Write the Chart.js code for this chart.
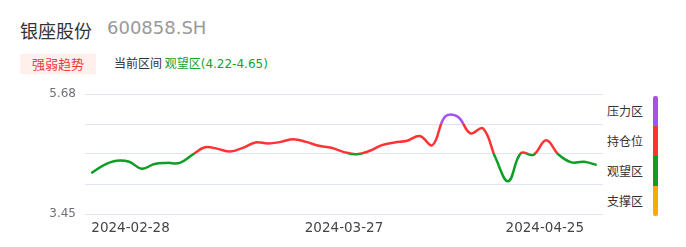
<!DOCTYPE html>
<html>
<head>
<meta charset="utf-8">
<script src="https://cdn.jsdelivr.net/npm/chart.js@4"></script>
<style>
    body {
        margin: 0;
        width: 686px;
        height: 247px;
        background: #fff;
        font-family: "DejaVu Sans", "Noto Sans CJK SC", sans-serif;
        position: relative;
        overflow: hidden;
    }
    .abs { position: absolute; white-space: nowrap; }
    #stockName { left: 20px; top: 17px; font-size: 18px; color: #333; font-family: "Noto Sans CJK SC", sans-serif; }
    #stockCode { left: 107px; top: 17px; font-size: 18px; color: #999; font-family: "DejaVu Sans", sans-serif; }
    #badge { left: 20px; top: 54px; width: 76px; height: 20px; background: #fff0ee; color: #f23a3a; font-size: 13px; line-height: 20px; text-align: center; font-family: "Noto Sans CJK SC", sans-serif; }
    #zoneInfo { left: 114px; top: 55px; font-size: 12px; line-height: 16px; color: #333; font-family: "Noto Sans CJK SC", sans-serif; }
    #zoneInfo span { color: #13a232; }
    #zoneInfo .num { font-family: "DejaVu Sans", sans-serif; }
    .legendLabel { left: 607px; font-size: 12px; color: #333; font-family: "Noto Sans CJK SC", sans-serif; line-height: 16px; }
    .legendBar { left: 653px; width: 5px; }
    #chart { position: absolute; left: 0; top: 0; }
</style>
</head>
<body>
<div class="abs" id="stockName">银座股份</div>
<div class="abs" id="stockCode">600858.SH</div>
<div class="abs" id="badge">强弱趋势</div>
<div class="abs" id="zoneInfo">当前区间 <span>观望区<span class="num">(4.22-4.65)</span></span></div>
<div id="legend"></div>
<canvas id="chart" width="686" height="247"></canvas>
<script>
const tickLabels = ["2024-02-28", "2024-03-27", "2024-04-25"];
const tickIndexes = [0, 20, 39];

const priceValues = [
    4.21, 4.36, 4.44, 4.42, 4.29, 4.38, 4.40, 4.40, 4.55, 4.69,
    4.66, 4.61, 4.68, 4.78, 4.76, 4.79, 4.84, 4.79, 4.72, 4.68,
    4.60, 4.56, 4.62, 4.73, 4.78, 4.81, 4.90, 4.73, 5.26, 5.26,
    4.95, 5.04, 4.49, 4.06, 4.58, 4.55, 4.82, 4.55, 4.41, 4.42,
    4.36
];

const axisValues = [3.45, 4.0075, 4.565, 5.1225, 5.68];

const zoneNames = ["压力区", "持仓位", "观望区", "支撑区"];
const zoneColors = ["#a352f0", "#ff3333", "#0c9e25", "#ffaa00"];

function buildLegend() {
    const legend = document.getElementById("legend");

    zoneNames.forEach((name, i) => {
        const label = document.createElement("div");
        label.className = "abs legendLabel";
        label.style.top = (103 + i * 30) + "px";
        label.textContent = name;
        legend.appendChild(label);

        const bar = document.createElement("div");
        bar.className = "abs legendBar";
        bar.style.top = (96 + i * 30) + "px";
        bar.style.height = "30px";
        bar.style.background = zoneColors[i];
        if (i === 0) bar.style.borderRadius = "2px 2px 0 0";
        if (i === 3) bar.style.borderRadius = "0 0 2px 2px";
        legend.appendChild(bar);
    });
}

// vertical gradient with hard stops at the zone boundaries
function zoneGradient(context) {
    const chart = context.chart;
    const area = chart.chartArea;

    if (!area) return zoneColors[2];

    const y = chart.scales.y;
    const top = area.top;
    const bottom = area.bottom;
    const gradient = chart.ctx.createLinearGradient(0, top, 0, bottom);
    const stop = (value) => (y.getPixelForValue(value) - top) / (bottom - top);

    const bounds = [axisValues[3], axisValues[2], axisValues[1]];
    let last = 0;

    bounds.forEach((b, i) => {
        const s = Math.min(1, Math.max(0, stop(b)));
        gradient.addColorStop(last, zoneColors[i]);
        gradient.addColorStop(s, zoneColors[i]);
        last = s;
    });
    gradient.addColorStop(last, zoneColors[3]);
    gradient.addColorStop(1, zoneColors[3]);

    return gradient;
}

buildLegend();

const points = priceValues.map((v, i) => ({ x: i, y: v }));

new Chart(document.getElementById("chart").getContext("2d"), {
    type: "line",
    data: {
        datasets: [{
            data: points,
            borderColor: zoneGradient,
            borderWidth: 2.5,
            pointRadius: 0,
            tension: 0.4,
            fill: false
        }]
    },
    options: {
        responsive: false,
        animation: false,
        layout: {
            padding: { left: 0, top: 94, right: 83, bottom: 0 }
        },
        plugins: {
            legend: { display: false },
            tooltip: { enabled: false }
        },
        scales: {
            x: {
                type: "linear",
                min: -0.5,
                max: priceValues.length - 0.5,
                grid: { display: false, drawTicks: false },
                border: { display: false },
                afterBuildTicks: (scale) => {
                    scale.ticks = tickIndexes.map((v) => ({ value: v }));
                },
                afterFit: (scale) => {
                    scale.height = 33;
                },
                ticks: {
                    autoSkip: false,
                    maxRotation: 0,
                    align: "inner",
                    padding: 6,
                    color: "#444",
                    font: { family: "DejaVu Sans", size: 13.5 },
                    callback: (value) => {
                        const i = tickIndexes.indexOf(value);
                        return i >= 0 ? tickLabels[i] : "";
                    }
                }
            },
            y: {
                min: axisValues[0],
                max: axisValues[axisValues.length - 1],
                grid: { color: "#e0e6f1", drawTicks: false, lineWidth: 1 },
                border: { display: false },
                afterBuildTicks: (scale) => {
                    scale.ticks = axisValues.map((v) => ({ value: v }));
                },
                afterFit: (scale) => {
                    scale.width = 85;
                },
                ticks: {
                    padding: 9,
                    color: "#6e7079",
                    font: { family: "DejaVu Sans", size: 12 },
                    callback: (value) => {
                        if (value === axisValues[0] || value === axisValues[axisValues.length - 1]) {
                            return value.toFixed(2);
                        }
                        return "";
                    }
                }
            }
        }
    }
});
</script>
</body>
</html>
